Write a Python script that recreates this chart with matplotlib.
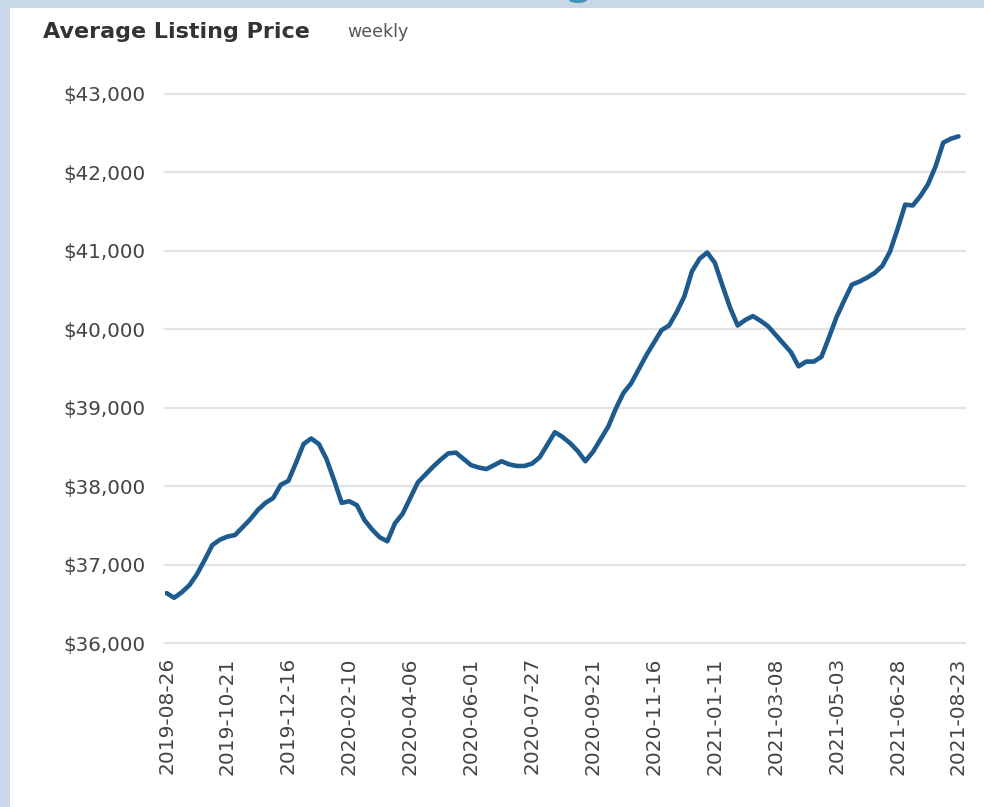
import matplotlib
matplotlib.use("Agg")
import matplotlib.pyplot as plt
import matplotlib.patches as mpatches
import pandas as pd
import numpy as np

plt.rcParams['font.family'] = ['DejaVu Sans']

start_date = "2019-08-26"
n_weeks = 105
prices = [
    36640, 36580, 36650, 36740, 36880, 37060, 37250, 37320, 37360, 37380,
    37480, 37580, 37700, 37790, 37850, 38020, 38070, 38300, 38540, 38610,
    38540, 38350, 38080, 37790, 37810, 37760, 37570, 37450, 37350, 37300,
    37530, 37650, 37850, 38050, 38150, 38250, 38340, 38420, 38430, 38350,
    38270, 38240, 38220, 38270, 38320, 38280, 38260, 38260, 38290, 38370,
    38530, 38690, 38630, 38550, 38450, 38320, 38440, 38600, 38760, 38990,
    39190, 39310, 39490, 39670, 39830, 39990, 40050, 40220, 40420, 40740,
    40900, 40980, 40850, 40560, 40280, 40050, 40120, 40170, 40110, 40040,
    39930, 39820, 39710, 39530, 39590, 39590, 39650, 39900, 40160, 40370,
    40570, 40610, 40660, 40720, 40810, 40990, 41280, 41590, 41580, 41700,
    41850, 42080, 42380, 42430, 42460,
]
tick_labels = [
    "2019-08-26", "2019-10-21", "2019-12-16", "2020-02-10", "2020-04-06",
    "2020-06-01", "2020-07-27", "2020-09-21", "2020-11-16", "2021-01-11",
    "2021-03-08", "2021-05-03", "2021-06-28", "2021-08-23",
]
y_ticks = [36000, 37000, 38000, 39000, 40000, 41000, 42000, 43000]

dates = pd.date_range(start_date, periods=n_weeks, freq="7D")
tick_dates = pd.to_datetime(tick_labels)

W, H = 984, 807
fig = plt.figure(figsize=(W / 100, H / 100), dpi=100)
fig.patch.set_facecolor("#c8d8e6")

# white panel
fig.patches.append(mpatches.Rectangle((10 / W, 0), 1 - 10 / W, 1 - 8 / H,
                                      transform=fig.transFigure,
                                      facecolor="white", edgecolor="none", zorder=-10))
# small remnant of blue mark at top
fig.patches.append(mpatches.Ellipse((578 / W, 1.0), 18 / W, 6 / H,
                                    transform=fig.transFigure,
                                    facecolor="#4a90c0", edgecolor="none", zorder=-9))

left, right = 165 / W, 965 / W
bottom, top = 1 - 643.3 / H, 1 - 94 / H
ax = fig.add_axes([left, bottom, right - left, top - bottom])
ax.set_zorder(5)
ax.set_facecolor("none")

ax.plot(dates, prices, color="#1d5a8e", linewidth=3.3, solid_joinstyle="round",
        solid_capstyle="round", zorder=3)

ax.set_ylim(36000, 43000)
ax.set_xlim(dates[0] - pd.Timedelta(days=1.4), dates[-1] + pd.Timedelta(days=6))
ax.set_yticks(y_ticks)
ax.set_yticklabels([f"${v:,.0f}" for v in y_ticks])
ax.set_xticks(tick_dates)
ax.set_xticklabels(tick_labels, rotation=90)

ax.grid(axis="y", color="#e3e3e3", linewidth=1.6)
ax.grid(axis="x", visible=False)
for gl in ax.get_ygridlines():
    gl.set_clip_on(False)
for s in ax.spines.values():
    s.set_visible(False)
ax.tick_params(axis="both", length=0, colors="#444444")
ax.tick_params(axis="y", labelsize=14.3, pad=14)
ax.tick_params(axis="x", labelsize=14.5, pad=10)

fig.text(43 / W, 1 - 38 / H, "Average Listing Price", fontsize=16, fontweight="bold",
         color="#333333", va="baseline", ha="left")
fig.text(347 / W, 1 - 37 / H, "weekly", fontsize=12.5, color="#555555",
         va="baseline", ha="left")

fig.savefig("out.png", dpi=100, facecolor=fig.get_facecolor())
